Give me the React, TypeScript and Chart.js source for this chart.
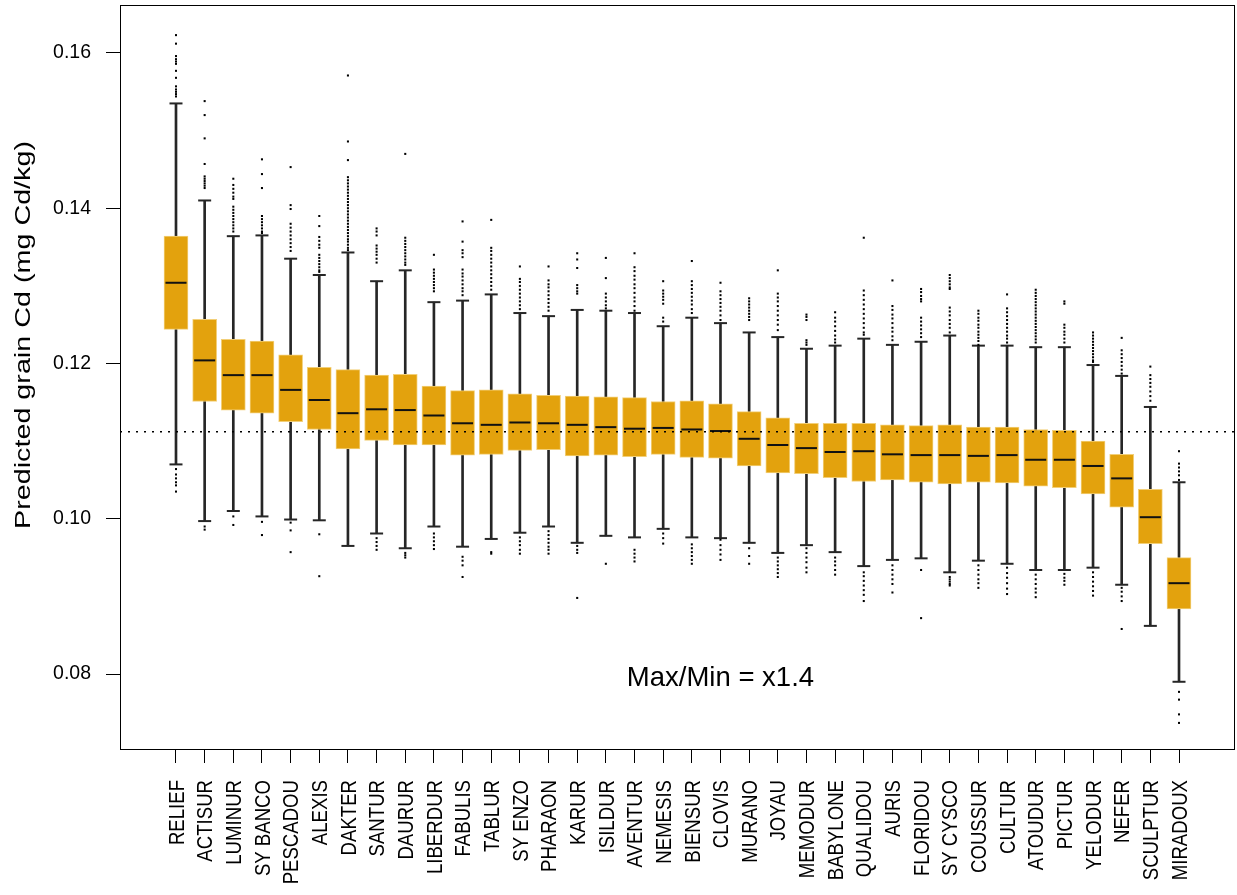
import React, { useEffect, useRef } from "react";
import { Chart, registerables } from "chart.js";

Chart.register(...registerables);

// Wheat cultivars, ordered by decreasing median predicted grain Cd
const cultivars = [
  "RELIEF", "ACTISUR", "LUMINUR", "SY BANCO", "PESCADOU", "ALEXIS", "DAKTER", "SANTUR",
  "DAURUR", "LIBERDUR", "FABULIS", "TABLUR", "SY ENZO", "PHARAON", "KARUR", "ISILDUR",
  "AVENTUR", "NEMESIS", "BIENSUR", "CLOVIS", "MURANO", "JOYAU", "MEMODUR", "BABYLONE",
  "QUALIDOU", "AURIS", "FLORIDOU", "SY CYSCO", "COUSSUR", "CULTUR", "ATOUDUR", "PICTUR",
  "YELODUR", "NEFER", "SCULPTUR", "MIRADOUX",
];

// Box-plot statistics (mg Cd/kg)
const whiskerHigh = [
  0.1535, 0.1410, 0.1364, 0.1365, 0.1335, 0.1314, 0.1343, 0.1306, 0.1320, 0.1279, 0.1281, 0.1289,
  0.1265, 0.1261, 0.1269, 0.1268, 0.1265, 0.1248, 0.1259, 0.1252, 0.1240, 0.1234, 0.1219, 0.1223,
  0.1232, 0.1224, 0.1228, 0.1236, 0.1223, 0.1223, 0.1221, 0.1221, 0.1198, 0.1184, 0.1144, 0.1047,
];
const upperQuartile = [
  0.1364, 0.1257, 0.1231, 0.1229, 0.1211, 0.1195, 0.1192, 0.1185, 0.1186, 0.1171, 0.1165, 0.1166,
  0.1161, 0.1159, 0.1158, 0.1157, 0.1156, 0.1151, 0.1152, 0.1148, 0.1138, 0.1130, 0.1123, 0.1123,
  0.1123, 0.1121, 0.1120, 0.1121, 0.1118, 0.1118, 0.1115, 0.1114, 0.1100, 0.1083, 0.1038, 0.0950,
];
const medians = [
  0.1304, 0.1204, 0.1185, 0.1185, 0.1166, 0.1153, 0.1136, 0.1141, 0.1140, 0.1133, 0.1123, 0.1121,
  0.1124, 0.1123, 0.1121, 0.1118, 0.1116, 0.1117, 0.1115, 0.1113, 0.1103, 0.1095, 0.1091, 0.1086,
  0.1087, 0.1083, 0.1082, 0.1082, 0.1081, 0.1082, 0.1076, 0.1076, 0.1068, 0.1052, 0.1002, 0.0917,
];
const lowerQuartile = [
  0.1244, 0.1151, 0.1140, 0.1136, 0.1125, 0.1115, 0.1090, 0.1101, 0.1095, 0.1095, 0.1082, 0.1083,
  0.1088, 0.1089, 0.1081, 0.1082, 0.1080, 0.1083, 0.1079, 0.1078, 0.1068, 0.1059, 0.1058, 0.1053,
  0.1048, 0.1050, 0.1047, 0.1045, 0.1047, 0.1046, 0.1042, 0.1040, 0.1032, 0.1015, 0.0968, 0.0884,
];
const whiskerLow = [
  0.1070, 0.0997, 0.1010, 0.1003, 0.0999, 0.0998, 0.0965, 0.0981, 0.0962, 0.0990, 0.0964, 0.0974,
  0.0982, 0.0990, 0.0969, 0.0978, 0.0976, 0.0987, 0.0976, 0.0975, 0.0969, 0.0956, 0.0966, 0.0957,
  0.0939, 0.0947, 0.0949, 0.0931, 0.0946, 0.0942, 0.0934, 0.0934, 0.0937, 0.0915, 0.0862, 0.0790,
];

// Values beyond the whiskers, one list per cultivar
const outliers: number[][] = [
  [0.1623, 0.1612, 0.1596, 0.1592, 0.1589, 0.1586, 0.1577, 0.1568, 0.1557, 0.1553, 0.1550, 0.1547, 0.1544,
    0.1064, 0.1057, 0.1052, 0.1047, 0.1043, 0.1035],
  [0.1538, 0.1520, 0.1490, 0.1457, 0.1441, 0.1438, 0.1435, 0.1432, 0.1429, 0.1426, 0.0990, 0.0986],
  [0.1438, 0.1430, 0.1425, 0.1420, 0.1415, 0.1412, 0.1402, 0.1398, 0.1394, 0.1390, 0.1386, 0.1382, 0.1378,
    0.1374, 0.1370, 0.1003, 0.0992],
  [0.1463, 0.1444, 0.1426, 0.1390, 0.1386, 0.1382, 0.1378, 0.1374, 0.1370, 0.1368, 0.0996, 0.0979],
  [0.1453, 0.1404, 0.1399, 0.1380, 0.1375, 0.1370, 0.1365, 0.1360, 0.1355, 0.1350, 0.1345, 0.0995, 0.0985,
    0.0957],
  [0.1390, 0.1377, 0.1363, 0.1358, 0.1353, 0.1349, 0.1340, 0.1336, 0.1332, 0.1328, 0.1324, 0.1320, 0.1318,
    0.0980, 0.0926],
  [0.1571, 0.1486, 0.1462, 0.1440, 0.1436, 0.1432, 0.1428, 0.1424, 0.1420, 0.1416, 0.1412, 0.1408, 0.1404,
    0.1400, 0.1396, 0.1392, 0.1388, 0.1384, 0.1380, 0.1376, 0.1372, 0.1368, 0.1364, 0.1360, 0.1357, 0.1353,
    0.1349, 0.1346],
  [0.1374, 0.1370, 0.1365, 0.1352, 0.1348, 0.1344, 0.1340, 0.1335, 0.1330, 0.0975, 0.0970, 0.0965, 0.0960],
  [0.1470, 0.1362, 0.1358, 0.1354, 0.1350, 0.1346, 0.1342, 0.1338, 0.1334, 0.1330, 0.1327, 0.0956, 0.0953,
    0.0950],
  [0.1340, 0.1321, 0.1317, 0.1313, 0.1309, 0.1305, 0.1301, 0.1297, 0.1293, 0.0981, 0.0976, 0.0971, 0.0966,
    0.0961],
  [0.1383, 0.1357, 0.1346, 0.1342, 0.1337, 0.1321, 0.1316, 0.1312, 0.1307, 0.1302, 0.1297, 0.1293, 0.1288,
    0.0951, 0.0946, 0.0940, 0.0925],
  [0.1385, 0.1349, 0.1345, 0.1340, 0.1335, 0.1330, 0.1325, 0.1320, 0.1315, 0.1310, 0.1305, 0.1300, 0.1295,
    0.0957, 0.0955],
  [0.1325, 0.1309, 0.1305, 0.1300, 0.1295, 0.1290, 0.1285, 0.1280, 0.1275, 0.1270, 0.0976, 0.0971, 0.0966,
    0.0960, 0.0955],
  [0.1325, 0.1307, 0.1302, 0.1298, 0.1293, 0.1288, 0.1283, 0.1278, 0.1273, 0.1268, 0.0984, 0.0979, 0.0974,
    0.0969, 0.0964, 0.0960, 0.0955],
  [0.1342, 0.1334, 0.1323, 0.1301, 0.1297, 0.1293, 0.1290, 0.0965, 0.0960, 0.0956, 0.0898],
  [0.1336, 0.1310, 0.1290, 0.1285, 0.1280, 0.1275, 0.1271, 0.0942],
  [0.1342, 0.1324, 0.1319, 0.1313, 0.1308, 0.1302, 0.1297, 0.1291, 0.1285, 0.1280, 0.1274, 0.1268, 0.0960,
    0.0955, 0.0950, 0.0945],
  [0.1306, 0.1294, 0.1290, 0.1286, 0.1282, 0.1277, 0.1259, 0.1254, 0.0981, 0.0975, 0.0968],
  [0.1332, 0.1306, 0.1301, 0.1296, 0.1291, 0.1286, 0.1281, 0.1276, 0.1270, 0.1265, 0.0967, 0.0962, 0.0957,
    0.0952, 0.0947, 0.0942],
  [0.1304, 0.1293, 0.1288, 0.1283, 0.1278, 0.1273, 0.1268, 0.1262, 0.1256, 0.0973, 0.0966, 0.0960, 0.0954,
    0.0947],
  [0.1284, 0.1280, 0.1276, 0.1272, 0.1268, 0.1264, 0.1260, 0.1256, 0.0962, 0.0952, 0.0942],
  [0.1320, 0.1290, 0.1285, 0.1280, 0.1274, 0.1268, 0.1262, 0.1256, 0.1250, 0.1243, 0.0950, 0.0945, 0.0940,
    0.0935, 0.0930, 0.0925],
  [0.1263, 0.1260, 0.1256, 0.1230, 0.1227, 0.1224, 0.0962, 0.0956, 0.0950, 0.0944, 0.0937, 0.0931],
  [0.1266, 0.1259, 0.1254, 0.1248, 0.1242, 0.1236, 0.1231, 0.1227, 0.0950, 0.0945, 0.0940, 0.0934, 0.0928],
  [0.1362, 0.1294, 0.1288, 0.1282, 0.1276, 0.1270, 0.1264, 0.1258, 0.1252, 0.1246, 0.1240, 0.1237, 0.0931,
    0.0926, 0.0920, 0.0914, 0.0908, 0.0902, 0.0894],
  [0.1307, 0.1274, 0.1269, 0.1263, 0.1258, 0.1252, 0.1246, 0.1241, 0.1235, 0.1230, 0.0940, 0.0934, 0.0928,
    0.0922, 0.0916, 0.0905],
  [0.1296, 0.1292, 0.1287, 0.1283, 0.1280, 0.1259, 0.1254, 0.1249, 0.1244, 0.1239, 0.1234, 0.0934, 0.0872],
  [0.1314, 0.1310, 0.1306, 0.1302, 0.1298, 0.1296, 0.1272, 0.1267, 0.1262, 0.1256, 0.1251, 0.1246, 0.1240,
    0.0925, 0.0922, 0.0919, 0.0916, 0.0914],
  [0.1268, 0.1264, 0.1259, 0.1255, 0.1250, 0.1246, 0.1241, 0.1237, 0.1233, 0.1229, 0.1224, 0.0940, 0.0934,
    0.0928, 0.0922, 0.0917, 0.0911],
  [0.1289, 0.1271, 0.1266, 0.1261, 0.1256, 0.1251, 0.1246, 0.1241, 0.1236, 0.1232, 0.1227, 0.0937, 0.0930,
    0.0924, 0.0917, 0.0910, 0.0903],
  [0.1295, 0.1291, 0.1287, 0.1283, 0.1279, 0.1275, 0.1271, 0.1267, 0.1263, 0.1259, 0.1255, 0.1251, 0.1247,
    0.1243, 0.1239, 0.1235, 0.1231, 0.1227, 0.0928, 0.0922, 0.0916, 0.0910, 0.0905, 0.0899],
  [0.1280, 0.1277, 0.1250, 0.1246, 0.1241, 0.1237, 0.1232, 0.1227, 0.0929, 0.0924, 0.0920, 0.0915],
  [0.1240, 0.1236, 0.1232, 0.1228, 0.1224, 0.1220, 0.1216, 0.1212, 0.1208, 0.1204, 0.1202, 0.0931, 0.0925,
    0.0919, 0.0913, 0.0907, 0.0901],
  [0.1233, 0.1217, 0.1212, 0.1207, 0.1202, 0.1197, 0.1192, 0.1187, 0.0911, 0.0906, 0.0900, 0.0894, 0.0858],
  [0.1196, 0.1185, 0.1180, 0.1175, 0.1170, 0.1164, 0.1158, 0.1152],
  [0.1087, 0.1071, 0.1066, 0.1061, 0.1056, 0.1050, 0.0777, 0.0767, 0.0748, 0.0737],
];

const yTicks = [0.08, 0.1, 0.12, 0.14, 0.16];
const overallMean = 0.1112;
const ratioLabel = "Max/Min = x1.4";
const ratioLabelAt = { x: 19, y: 0.0785 };
const yTitle = "Predicted grain Cd (mg Cd/kg)";

const X_MIN = -1.954;
const X_MAX = 36.954;
const Y_MIN = 0.07034;
const Y_MAX = 0.16618;

const FONT = "'Liberation Sans', Arial, Helvetica, sans-serif";
const BOX_FILL = "#E3A20D";
const BOX_EDGE = "#F2CF78";
const STROKE = "#262626";

// Cultivar names: vertical, reading upwards, ending just below the tick marks
const LABEL_SIZE = 21.5;
const LABEL_SQUEEZE = 0.865;
const LABEL_GAP = 17;

const framePlugin = {
  id: "frameAndText",
  afterDraw(chart: any) {
    const { ctx, chartArea: a, scales } = chart;
    ctx.save();
    // plot frame
    ctx.strokeStyle = "#000";
    ctx.lineWidth = 1;
    ctx.strokeRect(a.left + 0.5, a.top + 0.5, a.right - a.left - 1, a.bottom - a.top);

    ctx.fillStyle = "#000";

    // category labels under the x axis
    ctx.font = `${LABEL_SIZE}px ${FONT}`;
    ctx.textAlign = "right";
    ctx.textBaseline = "alphabetic";
    const capHalf = LABEL_SIZE * 0.716 * 0.5;
    const top = a.bottom + 14 + LABEL_GAP;
    scales.x.ticks.forEach((t: any) => {
      const name = cultivars[t.value];
      if (!name) return;
      ctx.save();
      ctx.translate(scales.x.getPixelForValue(t.value), top);
      ctx.rotate(-Math.PI / 2);
      ctx.scale(LABEL_SQUEEZE, 1);
      ctx.fillText(name, 0, capHalf);
      ctx.restore();
    });

    // ratio annotation
    ctx.font = `27.5px ${FONT}`;
    ctx.textAlign = "center";
    ctx.textBaseline = "alphabetic";
    ctx.fillText(
      ratioLabel,
      scales.x.getPixelForValue(ratioLabelAt.x),
      scales.y.getPixelForValue(ratioLabelAt.y)
    );

    // y-axis title, rotated and stretched along its length
    ctx.font = `22px ${FONT}`;
    const w = ctx.measureText(yTitle).width;
    ctx.translate(30, 335);
    ctx.rotate(-Math.PI / 2);
    ctx.scale(388 / w, 1);
    ctx.textAlign = "center";
    ctx.fillText(yTitle, 0, 0);
    ctx.restore();
  },
};

export default function App() {
  const canvasRef = useRef<HTMLCanvasElement | null>(null);

  useEffect(() => {
    const canvas = canvasRef.current;
    if (!canvas) return;
    const idx = cultivars.map((_, i) => i);

    const chart = new Chart(canvas, {
      type: "bar",
      data: {
        datasets: [
          {
            type: "line",
            data: [
              { x: X_MIN, y: overallMean },
              { x: X_MAX, y: overallMean },
            ],
            borderColor: "#000",
            borderWidth: 1.4,
            borderDash: [2, 6],
            pointRadius: 0,
            order: 0,
          } as any,
          {
            type: "scatter",
            data: idx.flatMap((i) => outliers[i].map((v) => ({ x: i, y: v }))),
            pointStyle: "rect",
            pointRadius: 1.45,
            pointBackgroundColor: "#000",
            pointBorderWidth: 0,
            order: 1,
          } as any,
          {
            type: "scatter",
            data: idx.map((i) => ({ x: i, y: medians[i] })),
            pointStyle: "line",
            pointRadius: 10.5,
            pointBorderColor: "#111",
            pointBorderWidth: 2,
            order: 2,
          } as any,
          {
            type: "scatter",
            data: idx.flatMap((i) => [
              { x: i, y: whiskerHigh[i] },
              { x: i, y: whiskerLow[i] },
            ]),
            pointStyle: "line",
            pointRadius: 6.5,
            pointBorderColor: STROKE,
            pointBorderWidth: 2,
            order: 3,
          } as any,
          {
            type: "bar",
            data: idx.map((i) => ({ x: i, y: [lowerQuartile[i], upperQuartile[i]] })),
            backgroundColor: BOX_FILL,
            borderColor: BOX_EDGE,
            borderWidth: 1,
            borderSkipped: false,
            barThickness: 24,
            grouped: false,
            order: 4,
          } as any,
          {
            type: "bar",
            data: idx.map((i) => ({ x: i, y: [whiskerLow[i], whiskerHigh[i]] })),
            backgroundColor: STROKE,
            borderWidth: 0,
            barThickness: 2,
            grouped: false,
            order: 5,
          } as any,
        ],
      },
      options: {
        animation: false,
        responsive: false,
        devicePixelRatio: 1,
        events: [],
        layout: { autoPadding: false, padding: { top: 5, right: 2, left: 0, bottom: 0 } },
        plugins: { legend: { display: false }, tooltip: { enabled: false } },
        scales: {
          x: {
            type: "linear",
            min: X_MIN,
            max: X_MAX,
            offset: false,
            afterBuildTicks: (s: any) => {
              s.ticks = idx.map((v) => ({ value: v }));
            },
            afterFit: (s: any) => {
              s.height = 146;
              s.paddingLeft = 0;
              s.paddingRight = 0;
              s.paddingTop = 0;
              s.paddingBottom = 0;
            },
            ticks: { display: false, autoSkip: false },
            grid: {
              drawOnChartArea: false,
              drawTicks: true,
              tickLength: 14,
              tickColor: "#000",
              tickWidth: 1,
              offset: false,
            },
            border: { display: false },
          },
          y: {
            type: "linear",
            min: Y_MIN,
            max: Y_MAX,
            afterBuildTicks: (s: any) => {
              s.ticks = yTicks.map((v) => ({ value: v }));
            },
            afterFit: (s: any) => {
              s.width = 120;
              s.paddingLeft = 0;
              s.paddingRight = 0;
              s.paddingTop = 0;
              s.paddingBottom = 0;
            },
            ticks: {
              padding: 15,
              color: "#000",
              font: { family: FONT, size: 19.5 },
              callback: (v: any) => Number(v).toFixed(2),
            },
            grid: {
              drawOnChartArea: false,
              drawTicks: true,
              tickLength: 14,
              tickColor: "#000",
              tickWidth: 1,
            },
            border: { display: false },
          },
        },
      } as any,
      plugins: [framePlugin],
    });

    return () => chart.destroy();
  }, []);

  return (
    <div
      style={{
        position: "absolute",
        left: 0,
        top: 0,
        width: 1237,
        height: 895,
        background: "#fff",
      }}
    >
      <canvas ref={canvasRef} width={1237} height={895} style={{ display: "block" }} />
    </div>
  );
}
